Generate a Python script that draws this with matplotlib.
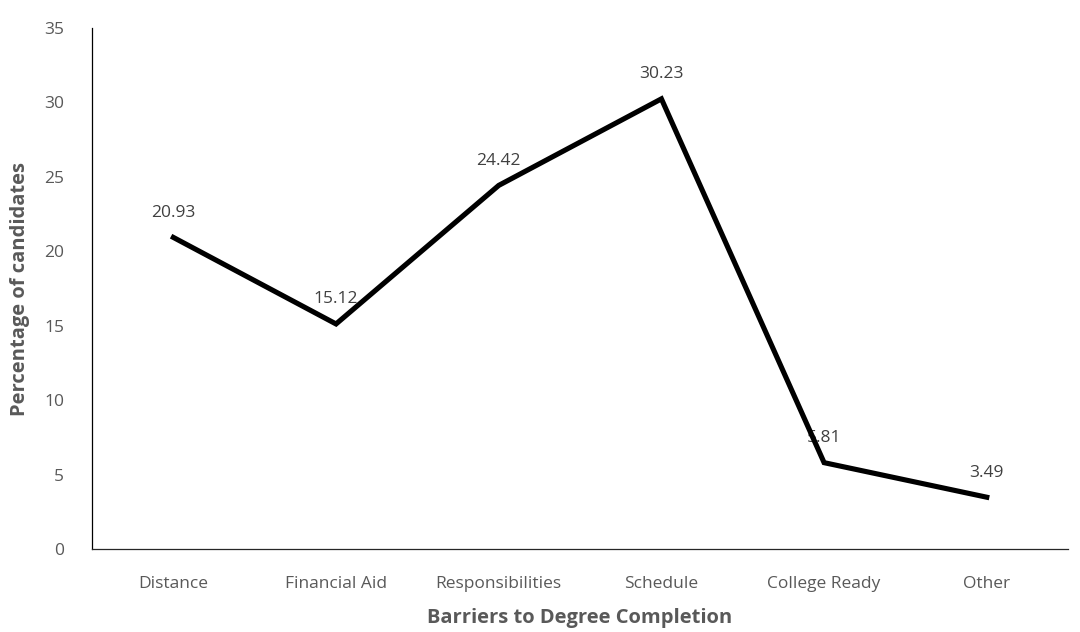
import matplotlib
matplotlib.use('Agg')
import matplotlib.pyplot as plt
import numpy as np

plt.rcParams['font.family'] = ['Open Sans', 'DejaVu Sans']

# barriers reported by candidates (percent)
barriers = ['Distance', 'Financial Aid', 'Responsibilities', 'Schedule', 'College Ready', 'Other']
percents = [20.93, 15.12, 24.42, 30.23, 5.81, 3.49]
yticks = [0, 5, 10, 15, 20, 25, 30, 35]

fig = plt.figure(figsize=(10.8, 6.32), dpi=100)
ax = fig.add_axes([0.0852, 0.131, 0.9038, 0.825])

x = np.arange(len(barriers)) + 0.5
# line sits on top of the value labels
ax.plot(x, percents, color='black', linewidth=3.7, solid_joinstyle='miter', zorder=5)

for xi, v in zip(x, percents):
    ax.annotate('%.2f' % v, (xi, v), xytext=(0, 12), textcoords='offset points',
                ha='center', va='bottom', fontsize=12.5, color='#404040', zorder=3)

ax.set_xlim(0, len(barriers))
ax.set_ylim(0, 35)
ax.set_xticks(x)
ax.set_xticklabels(barriers)
ax.set_yticks(yticks)
ax.tick_params(length=0, labelsize=12.5, labelcolor='#595959')
ax.tick_params(axis='x', pad=19)
ax.tick_params(axis='y', pad=20)

for s in ['top', 'right']:
    ax.spines[s].set_visible(False)
ax.spines['left'].set_color('#000000')
ax.spines['bottom'].set_color('#262626')
for s in ['left', 'bottom']:
    ax.spines[s].set_linewidth(0.9)

ax.set_xlabel('Barriers to Degree Completion', fontsize=14.5, fontweight='bold',
              color='#595959', labelpad=12)
ax.set_ylabel('Percentage of candidates', fontsize=14.5, fontweight='bold',
              color='#595959', labelpad=10)

fig.savefig('out.png', dpi=100)
